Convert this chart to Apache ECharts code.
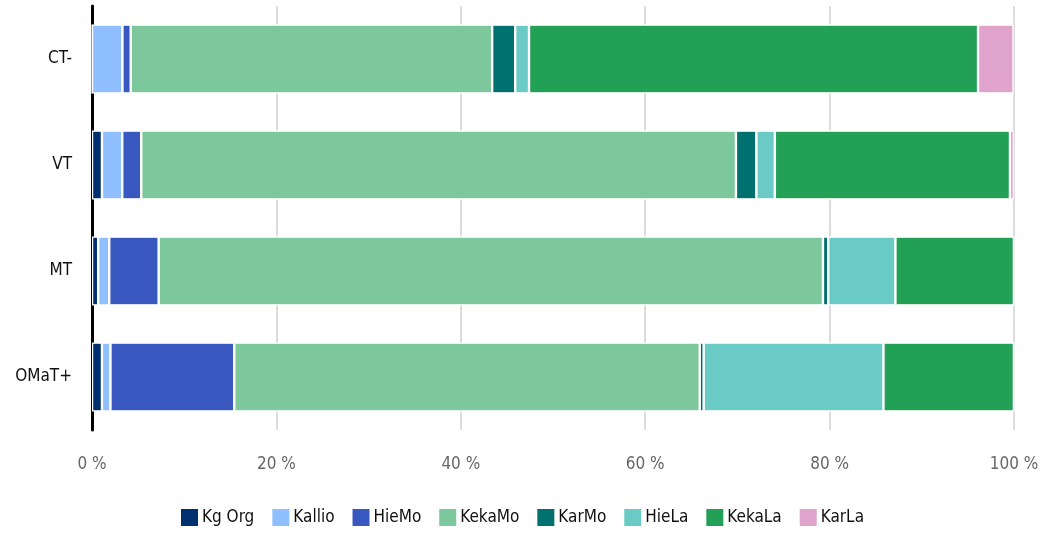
<!DOCTYPE html>
<html>
<head>
<meta charset="utf-8">
<script src="https://cdn.jsdelivr.net/npm/echarts@6/dist/echarts.min.js"></script>
<style>html,body{margin:0;padding:0;background:#fff}#c{width:1043px;height:537px}</style>
</head>
<body>
<div id="c"></div>
<script>
const categories = ["CT-", "VT", "MT", "OMaT+"];
const seriesNames = ["Kg Org", "Kallio", "HieMo", "KekaMo", "KarMo", "HieLa", "KekaLa", "KarLa"];
const kgOrg  = [0,    1.08, 0.67, 1.08];
const kallio = [3.3,  2.2,  1.2,  0.92];
const hieMo  = [0.9,  2.06, 5.36, 13.43];
const kekaMo = [39.2, 64.5, 72.05, 50.48];
const karMo  = [2.5,  2.22, 0.57, 0.43];
const hieLa  = [1.5,  2.0,  7.29, 19.5];
const kekaLa = [48.7, 25.5, 12.85, 14.15];
const karLa  = [3.85, 0.43, 0,    0];
const tickLabels = ["0 %", "20 %", "40 %", "60 %", "80 %", "100 %"];
const colors = ["#00306e", "#8fbfff", "#3858bf", "#7cc79b", "#00716e", "#69cac6", "#22a056", "#e0a3cc"];

const values = [kgOrg, kallio, hieMo, kekaMo, karMo, hieLa, kekaLa, karLa];
const FONT = "'Liberation Sans Narrow', 'DejaVu Sans Condensed', 'Roboto', sans-serif";

const chart = echarts.init(document.getElementById('c'), null, {renderer: 'canvas'});
chart.setOption({
  animation: false,
  color: colors,
  textStyle: {fontFamily: FONT},
  grid: {left: 92, right: 29, top: 6, bottom: 107, containLabel: false},
  legend: {
    bottom: 4,
    left: 'center',
    itemWidth: 19,
    itemHeight: 19,
    itemGap: 16,
    icon: 'rect',
    textStyle: {fontFamily: FONT, fontSize: 17, color: '#111', padding: [0, 0, 0, -2]},
    data: seriesNames
  },
  xAxis: {
    type: 'value',
    min: 0, max: 100, interval: 20,
    axisLine: {show: false},
    axisTick: {show: false},
    splitLine: {show: true, lineStyle: {color: '#dcdcdc', width: 2}},
    axisLabel: {
      margin: 26,
      fontFamily: FONT, fontSize: 17, color: '#666',
      formatter: function (v) { return tickLabels[Math.round(v / 20)]; }
    }
  },
  yAxis: {
    type: 'category',
    inverse: true,
    data: categories,
    axisLine: {show: true, lineStyle: {color: '#000', width: 3}},
    axisTick: {show: false},
    axisLabel: {margin: 20, fontFamily: FONT, fontSize: 17, color: '#111'}
  },
  series: seriesNames.map(function (name, i) {
    return {
      name: name,
      type: 'bar',
      stack: 'total',
      barCategoryGap: '35%',
      data: values[i],
      itemStyle: {borderColor: '#fff', borderWidth: 1.2},
      emphasis: {disabled: true}
    };
  })
});
</script>
</body>
</html>
